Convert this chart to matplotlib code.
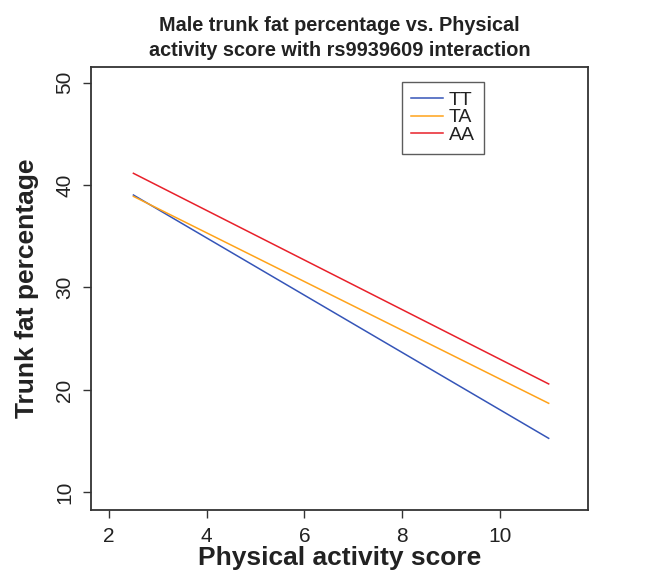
import matplotlib
matplotlib.use("Agg")
import matplotlib.pyplot as plt

plt.rcParams['font.family'] = ['Liberation Sans', 'DejaVu Sans']

genotypes = ["TT", "TA", "AA"]
colors = ["#3555b8", "#ffa31a", "#e8202a"]
x_vals = [2.5, 11]
tt = [39.03, 15.27]
ta = [38.9, 18.69]
aa = [41.15, 20.58]
series = [tt, ta, aa]
xticks = [2, 4, 6, 8, 10]
yticks = [10, 20, 30, 40, 50]

W, H = 663, 576
L, R, T, B = 91, 588, 66.7, 510
fig = plt.figure(figsize=(W/100, H/100), dpi=100)
ax = fig.add_axes([L/W, (H-B)/H, (R-L)/W, (B-T)/H])

for name, ys, c in zip(genotypes, series, colors):
    ax.plot(x_vals, ys, color=c, lw=1.1, label=name)

ax.set_xlim(1.632, 11.805)
ax.set_ylim(8.27, 51.56)
ax.set_xticks(xticks)
ax.set_yticks(yticks)
ax.tick_params(axis='both', direction='out', length=5.5, width=1, color='#333333',
               labelsize=15, labelcolor='#222222')
ax.tick_params(axis='x', pad=6.8)
ax.tick_params(axis='y', pad=6.5)
for lab in ax.get_yticklabels():
    lab.set_rotation(90)
    lab.set_va('center')
for s in ax.spines.values():
    s.set_color('#333333')
    s.set_linewidth(1.3)

ax.set_xlabel("Physical activity score", fontsize=19, fontweight='bold', color='#222222', labelpad=0)
ax.set_ylabel("Trunk fat percentage", fontsize=19, fontweight='bold', color='#222222', labelpad=12)
ax.set_title("Male trunk fat percentage vs. Physical\nactivity score with rs9939609 interaction",
             fontsize=14.3, fontweight='bold', color='#222222', pad=7.5, linespacing=1.42)

leg = ax.legend(loc='upper left', bbox_to_anchor=((401.7-L)/(R-L), 1-(81.7-T)/(B-T)),
                fontsize=14, frameon=True, fancybox=False, handlelength=1.65,
                borderpad=0.49, labelspacing=0.0, handletextpad=0.27, borderaxespad=0)
leg.get_frame().set_edgecolor('#333333')
leg.get_frame().set_linewidth(1.0)
for t in leg.get_texts():
    t.set_color('#222222')

fig.savefig("out.png", dpi=100)
